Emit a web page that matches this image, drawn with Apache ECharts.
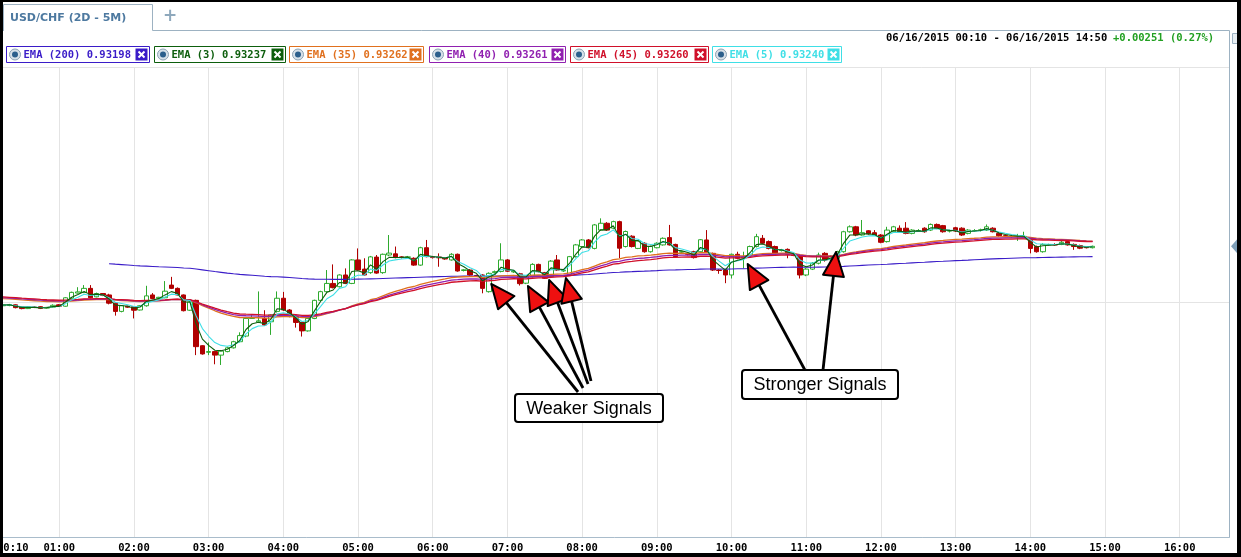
<!DOCTYPE html>
<html>
<head>
<meta charset="utf-8">
<script src="https://cdn.jsdelivr.net/npm/echarts@6.0.0/dist/echarts.min.js"></script>
<style>
  html, body { margin: 0; padding: 0; background: #fff; }
  #chart { width: 1241px; height: 557px; }
</style>
</head>
<body>
<div id="chart"></div>
<script>
// USD/CHF 5-minute bars, 06/16/2015 00:10 - 14:50
const openPrices = [
  0.92986,0.92984,0.92985,0.92988,0.92978,0.92972,0.92978,0.92980,0.92974,0.92978,
  0.92988,0.92982,0.93016,0.93038,0.93040,0.93058,0.93022,0.93036,0.93030,0.92995,
  0.92960,0.92982,0.92980,0.92966,0.92984,0.93030,0.93016,0.93018,0.93072,0.93058,
  0.93030,0.92965,0.93007,0.92814,0.92786,0.92789,0.92774,0.92789,0.92805,0.92831,
  0.92855,0.92930,0.92915,0.92930,0.92916,0.92960,0.93016,0.92966,0.92938,0.92913,
  0.92877,0.92930,0.93007,0.93044,0.93079,0.93065,0.93115,0.93079,0.93179,0.93140,
  0.93125,0.93191,0.93125,0.93200,0.93205,0.93192,0.93190,0.93186,0.93157,0.93231,
  0.93193,0.93192,0.93186,0.93179,0.93203,0.93134,0.93136,0.93113,0.93115,0.93044,
  0.93125,0.93130,0.93179,0.93128,0.93120,0.93080,0.93108,0.93160,0.93125,0.93108,
  0.93179,0.93132,0.93118,0.93193,0.93236,0.93264,0.93228,0.93306,0.93335,0.93314,
  0.93342,0.93236,0.93280,0.93228,0.93250,0.93214,0.93231,0.93243,0.93274,0.93245,
  0.93212,0.93206,0.93214,0.93214,0.93264,0.93207,0.93136,0.93136,0.93115,0.93203,
  0.93188,0.93200,0.93236,0.93271,0.93257,0.93236,0.93219,0.93224,0.93200,0.93193,
  0.93115,0.93140,0.93165,0.93207,0.93180,0.93186,0.93214,0.93299,0.93320,0.93285,
  0.93303,0.93295,0.93285,0.93257,0.93299,0.93314,0.93314,0.93292,0.93302,0.93314,
  0.93306,0.93330,0.93325,0.93302,0.93316,0.93314,0.93292,0.93303,0.93306,0.93306,
  0.93314,0.93292,0.93282,0.93279,0.93278,0.93276,0.93264,0.93236,0.93214,0.93243,
  0.93244,0.93245,0.93257,0.93245,0.93240,0.93232,0.93231
];
const closePrices = [
  0.92987,0.92988,0.92989,0.92976,0.92972,0.92978,0.92977,0.92973,0.92977,0.92986,
  0.92982,0.93018,0.93041,0.93043,0.93058,0.93018,0.93036,0.93028,0.92995,0.92960,
  0.92984,0.92978,0.92965,0.92984,0.93026,0.93015,0.93020,0.93046,0.93058,0.93030,
  0.92963,0.93000,0.92810,0.92779,0.92789,0.92774,0.92791,0.92805,0.92831,0.92857,
  0.92930,0.92932,0.92920,0.92902,0.92945,0.93016,0.92966,0.92938,0.92913,0.92877,
  0.92930,0.93007,0.93044,0.93079,0.93061,0.93115,0.93079,0.93179,0.93136,0.93115,
  0.93192,0.93123,0.93203,0.93208,0.93189,0.93190,0.93192,0.93157,0.93231,0.93193,
  0.93189,0.93188,0.93183,0.93203,0.93132,0.93137,0.93115,0.93112,0.93058,0.93122,
  0.93129,0.93179,0.93131,0.93131,0.93078,0.93108,0.93160,0.93129,0.93101,0.93174,
  0.93136,0.93135,0.93193,0.93243,0.93264,0.93231,0.93328,0.93335,0.93306,0.93342,
  0.93229,0.93300,0.93236,0.93260,0.93214,0.93236,0.93250,0.93271,0.93243,0.93193,
  0.93214,0.93203,0.93189,0.93265,0.93214,0.93136,0.93134,0.93115,0.93203,0.93186,
  0.93193,0.93236,0.93278,0.93250,0.93228,0.93207,0.93222,0.93203,0.93198,0.93115,
  0.93140,0.93165,0.93200,0.93179,0.93195,0.93214,0.93299,0.93320,0.93285,0.93295,
  0.93290,0.93285,0.93254,0.93306,0.93320,0.93299,0.93292,0.93306,0.93304,0.93299,
  0.93330,0.93314,0.93299,0.93303,0.93302,0.93285,0.93306,0.93304,0.93307,0.93320,
  0.93299,0.93282,0.93281,0.93278,0.93278,0.93279,0.93228,0.93214,0.93245,0.93244,
  0.93243,0.93254,0.93243,0.93236,0.93229,0.93231,0.93237
];
const lowPrices = [
  0.92980,0.92980,0.92982,0.92973,0.92969,0.92970,0.92974,0.92970,0.92972,0.92976,
  0.92979,0.92980,0.93014,0.93036,0.93038,0.93015,0.93020,0.93025,0.92990,0.92942,
  0.92956,0.92975,0.92930,0.92964,0.92980,0.93012,0.93014,0.93016,0.93055,0.93028,
  0.92960,0.92962,0.92774,0.92776,0.92774,0.92735,0.92732,0.92786,0.92802,0.92828,
  0.92850,0.92928,0.92912,0.92898,0.92860,0.92955,0.92962,0.92935,0.92891,0.92853,
  0.92874,0.92927,0.93004,0.93040,0.93058,0.93062,0.93076,0.93076,0.93133,0.93112,
  0.93120,0.93120,0.93120,0.93195,0.93186,0.93185,0.93186,0.93154,0.93154,0.93190,
  0.93185,0.93150,0.93180,0.93176,0.93129,0.93130,0.93112,0.93108,0.93037,0.93040,
  0.93120,0.93126,0.93128,0.93124,0.93070,0.93076,0.93104,0.93126,0.93098,0.93104,
  0.93132,0.93128,0.93114,0.93189,0.93232,0.93228,0.93224,0.93302,0.93302,0.93310,
  0.93187,0.93232,0.93232,0.93225,0.93210,0.93210,0.93228,0.93240,0.93240,0.93189,
  0.93208,0.93198,0.93185,0.93210,0.93210,0.93132,0.93120,0.93080,0.93100,0.93182,
  0.93143,0.93196,0.93232,0.93246,0.93224,0.93203,0.93215,0.93186,0.93195,0.93100,
  0.93110,0.93136,0.93160,0.93172,0.93176,0.93150,0.93210,0.93295,0.93280,0.93282,
  0.93286,0.93282,0.93250,0.93253,0.93295,0.93295,0.93288,0.93288,0.93298,0.93295,
  0.93302,0.93310,0.93295,0.93296,0.93298,0.93281,0.93288,0.93298,0.93300,0.93302,
  0.93296,0.93278,0.93278,0.93274,0.93260,0.93273,0.93207,0.93210,0.93210,0.93240,
  0.93240,0.93242,0.93240,0.93222,0.93225,0.93228,0.93228
];
const highPrices = [
  0.92990,0.92991,0.92992,0.92990,0.92980,0.92980,0.92981,0.92982,0.92979,0.92990,
  0.92991,0.93021,0.93044,0.93063,0.93072,0.93072,0.93040,0.93038,0.93035,0.92998,
  0.92986,0.92984,0.92982,0.92986,0.93069,0.93038,0.93022,0.93089,0.93107,0.93062,
  0.93032,0.93004,0.93010,0.92816,0.92828,0.92791,0.92795,0.92810,0.92835,0.92871,
  0.92935,0.92945,0.93045,0.92965,0.92948,0.93045,0.93043,0.92970,0.92940,0.92915,
  0.92933,0.93010,0.93048,0.93136,0.93160,0.93118,0.93143,0.93182,0.93228,0.93186,
  0.93196,0.93200,0.93206,0.93285,0.93236,0.93195,0.93196,0.93190,0.93235,0.93264,
  0.93196,0.93207,0.93190,0.93208,0.93206,0.93140,0.93140,0.93116,0.93118,0.93126,
  0.93134,0.93250,0.93183,0.93134,0.93124,0.93112,0.93165,0.93163,0.93128,0.93178,
  0.93200,0.93140,0.93196,0.93247,0.93268,0.93268,0.93332,0.93356,0.93340,0.93346,
  0.93346,0.93304,0.93284,0.93264,0.93254,0.93240,0.93254,0.93275,0.93328,0.93248,
  0.93218,0.93210,0.93218,0.93268,0.93306,0.93210,0.93140,0.93140,0.93206,0.93214,
  0.93214,0.93240,0.93290,0.93285,0.93262,0.93240,0.93226,0.93228,0.93204,0.93196,
  0.93145,0.93170,0.93210,0.93212,0.93199,0.93218,0.93303,0.93326,0.93324,0.93349,
  0.93306,0.93306,0.93289,0.93320,0.93324,0.93326,0.93340,0.93310,0.93310,0.93318,
  0.93334,0.93334,0.93328,0.93308,0.93320,0.93318,0.93310,0.93310,0.93312,0.93330,
  0.93318,0.93296,0.93286,0.93283,0.93290,0.93299,0.93268,0.93240,0.93250,0.93248,
  0.93250,0.93264,0.93262,0.93249,0.93244,0.93236,0.93240
];

// EMA overlays (order as in the legend); seeds are the line levels where each starts
const emaNames = ['EMA (200)', 'EMA (3)', 'EMA (35)', 'EMA (40)', 'EMA (45)', 'EMA (5)'];
const emaPeriods = [200, 3, 35, 40, 45, 5];
const emaSeeds = [0.93163, 0.92987, 0.93016, 0.93020, 0.93023, 0.92987];
const emaStartBar = [18, 0, 0, 0, 0, 0];
const emaLegendValues = ['0.93198', '0.93237', '0.93262', '0.93261', '0.93260', '0.93240'];
const emaColors = ['#3a1cc8', '#0d5e0d', '#e0701e', '#9020b0', '#d0102a', '#3fdfe6'];

const hourLabels = ['00:10', '01:00', '02:00', '03:00', '04:00', '05:00', '06:00', '07:00', '08:00',
  '09:00', '10:00', '11:00', '12:00', '13:00', '14:00', '15:00', '16:00'];

// annotation arrow tips: [bar index, price]
const weakerSignals = [[79.4, 0.93077], [85.3, 0.93068], [88.7, 0.93094], [91.4, 0.93102]];
const strongerSignals = [[120.6, 0.93162], [134.8, 0.93213]];

// 5-minute time slots across the visible window
const times = [];
for (let m = 10; m <= 10 + 198 * 5; m += 5) {
  const h = Math.floor(m / 60), mm = m % 60;
  times.push(String(h).padStart(2, '0') + ':' + String(mm).padStart(2, '0'));
}

const candles = openPrices.map((o, i) => [o, closePrices[i], lowPrices[i], highPrices[i]]);

function ema(period, seed, start) {
  const k = 2 / (period + 1);
  const out = [];
  let v = seed;
  for (let i = 0; i < closePrices.length; i++) {
    if (i < start) { out.push(null); continue; }
    if (i > start) v = v + k * (closePrices[i] - v);
    out.push(+v.toFixed(6));
  }
  return out;
}

const chart = echarts.init(document.getElementById('chart'), null, { renderer: 'canvas' });

// draw order: candles, then 200, 35, 40, 45, 5, 3
const drawOrder = [0, 2, 3, 4, 5, 1];
const emaSeries = drawOrder.map((idx, n) => ({
  name: emaNames[idx],
  type: 'line',
  data: ema(emaPeriods[idx], emaSeeds[idx], emaStartBar[idx]),
  symbol: 'none',
  smooth: false,
  z: 3 + n,
  lineStyle: { color: emaColors[idx], width: idx >= 2 && idx <= 4 ? 1.3 : 1.1 },
  silent: true
}));

chart.setOption({
  animation: false,
  backgroundColor: '#ffffff',
  grid: { left: -3, right: 11.5, top: 67, bottom: 20, containLabel: false, outerBoundsMode: 'none' },
  xAxis: {
    type: 'category',
    data: times,
    boundaryGap: false,
    axisLine: { lineStyle: { color: '#a9bccb', width: 1 } },
    axisTick: { show: false },
    axisLabel: {
      interval: (i, v) => hourLabels.includes(v),
      alignMinLabel: 'left',
      margin: 6,
      color: '#000',
      fontFamily: 'DejaVu Sans Mono',
      fontWeight: 'bold',
      fontSize: 10.5
    },
    splitLine: {
      show: true,
      interval: (i, v) => hourLabels.includes(v) && v !== '00:10',
      lineStyle: { color: '#e4e4e4', width: 1 }
    }
  },
  yAxis: {
    type: 'value',
    position: 'right',
    min: 0.92,
    max: 0.94,
    interval: 0.01,
    axisLine: { show: false },
    axisTick: { show: false },
    axisLabel: { show: false },
    splitLine: { lineStyle: { color: '#e4e4e4', width: 1 } }
  },
  series: [{
    name: 'USD/CHF',
    type: 'candlestick',
    data: candles,
    barWidth: 5,
    z: 2,
    itemStyle: {
      color: '#ffffff',
      color0: '#b00000',
      borderColor: '#2eaa2e',
      borderColor0: '#b00000',
      borderWidth: 1
    }
  }].concat(emaSeries)
});

function toPx(bar, price) {
  const i = Math.floor(bar), f = bar - i;
  const p0 = chart.convertToPixel({ gridIndex: 0 }, [i, price]);
  const p1 = chart.convertToPixel({ gridIndex: 0 }, [i + 1, price]);
  return [p0[0] + (p1[0] - p0[0]) * f, p0[1]];
}

function arrow(sx, sy, target) {
  const [tx, ty] = toPx(target[0], target[1]);
  const dx = tx - sx, dy = ty - sy, len = Math.hypot(dx, dy);
  const ux = dx / len, uy = dy / len, L = 24, W = 10.5;
  const bx = tx - ux * L, by = ty - uy * L, nx = -uy, ny = ux;
  return [
    { type: 'line', z: 50, shape: { x1: sx, y1: sy, x2: bx, y2: by },
      style: { stroke: '#000', lineWidth: 2.8 } },
    { type: 'polygon', z: 51,
      shape: { points: [[tx, ty], [bx + nx * W, by + ny * W], [bx - nx * W, by - ny * W]] },
      style: { fill: '#ee1010', stroke: '#000', lineWidth: 2, lineJoin: 'round' } }
  ];
}

function labelBox(x, y, w, h, text) {
  return [
    { type: 'rect', z: 52, shape: { x: x, y: y, width: w, height: h, r: 3 },
      style: { fill: '#fff', stroke: '#000', lineWidth: 2 } },
    { type: 'text', z: 53, x: x + w / 2, y: y + h / 2 + 1,
      style: { text: text, fill: '#000', font: '18px "Liberation Sans", Arial, sans-serif',
        align: 'center', verticalAlign: 'middle' } }
  ];
}

// legend chips
const chipX = [6, 154, 289, 429, 570, 712];
const chipW = [143, 131, 134, 136, 138, 129];
function chip(i) {
  const x = chipX[i] + 0.5, w = chipW[i], c = emaColors[i];
  const bx = x + w - 14;
  return [
    { type: 'rect', z: 60, shape: { x: x, y: 46.5, width: w, height: 16 },
      style: { fill: '#fff', stroke: c, lineWidth: 1 } },
    { type: 'circle', z: 61, shape: { cx: x + 8.5, cy: 54.5, r: 5.5 },
      style: { fill: '#d6e0e8', stroke: '#8da3b4', lineWidth: 1 } },
    { type: 'circle', z: 62, shape: { cx: x + 8.5, cy: 54.5, r: 3 },
      style: { fill: '#2b5f8c' } },
    { type: 'text', z: 61, x: x + 17, y: 55,
      style: { text: emaNames[i] + ' ' + emaLegendValues[i], fill: c,
        font: 'bold 10.5px "DejaVu Sans Mono", monospace', verticalAlign: 'middle' } },
    { type: 'rect', z: 61, shape: { x: bx, y: 48.5, width: 12, height: 12 },
      style: { fill: c } },
    { type: 'line', z: 62, shape: { x1: bx + 3, y1: 51.5, x2: bx + 9, y2: 57.5 },
      style: { stroke: '#fff', lineWidth: 2 } },
    { type: 'line', z: 62, shape: { x1: bx + 9, y1: 51.5, x2: bx + 3, y2: 57.5 },
      style: { stroke: '#fff', lineWidth: 2 } }
  ];
}

const lastY = toPx(closePrices.length - 1, closePrices[closePrices.length - 1])[1];

let graphics = [];
// tab + panel frame
graphics.push(
  { type: 'polyline', z: 40, shape: { points: [[3.5, 31], [3.5, 4.5], [152.5, 4.5], [152.5, 30.5], [1229.5, 30.5], [1229.5, 537]] },
    style: { stroke: '#9db2c2', lineWidth: 1, fill: null } },
  { type: 'text', z: 41, x: 10, y: 18,
    style: { text: 'USD/CHF (2D - 5M)', fill: '#4d79a0', font: 'bold 11px "DejaVu Sans", sans-serif', verticalAlign: 'middle' } },
  { type: 'text', z: 41, x: 170, y: 17,
    style: { text: '+', fill: '#8ea8bc', font: 'bold 17px "DejaVu Sans", sans-serif', align: 'center', verticalAlign: 'middle' } },
  { type: 'rect', z: 40, shape: { x: 0, y: 32, width: 1229, height: 35 }, style: { fill: '#fff' } },
  { type: 'text', z: 41, x: 886, y: 38,
    style: { text: '06/16/2015 00:10 - 06/16/2015 14:50', fill: '#000', font: 'bold 10.5px "DejaVu Sans Mono", monospace', verticalAlign: 'middle' } },
  { type: 'text', z: 41, x: 1113, y: 38,
    style: { text: '+0.00251 (0.27%)', fill: '#22a022', font: 'bold 10.5px "DejaVu Sans Mono", monospace', verticalAlign: 'middle' } },
  { type: 'rect', z: 41, shape: { x: 1232.5, y: 33.5, width: 7, height: 10 }, style: { fill: '#e8eef2', stroke: '#9db2c2' } },
  { type: 'polygon', z: 41, shape: { points: [[1231, lastY], [1238, lastY - 8], [1238, lastY + 8]] }, style: { fill: '#7f9fb8' } }
);
for (let i = 0; i < emaNames.length; i++) graphics = graphics.concat(chip(i));

// annotations
const weakerStarts = [[578, 392], [583, 388], [588, 384], [591, 381]];
weakerSignals.forEach((t, i) => { graphics = graphics.concat(arrow(weakerStarts[i][0], weakerStarts[i][1], t)); });
const strongerStarts = [[806, 372], [823, 370]];
strongerSignals.forEach((t, i) => { graphics = graphics.concat(arrow(strongerStarts[i][0], strongerStarts[i][1], t)); });
graphics = graphics.concat(labelBox(515, 394, 148, 28, 'Weaker Signals'));
graphics = graphics.concat(labelBox(742, 370, 156, 29, 'Stronger Signals'));

// black outer frame
graphics.push(
  { type: 'rect', z: 90, shape: { x: 0, y: 0, width: 3, height: 557 }, style: { fill: '#000' } },
  { type: 'rect', z: 90, shape: { x: 0, y: 0, width: 1241, height: 2 }, style: { fill: '#000' } },
  { type: 'rect', z: 90, shape: { x: 1237, y: 0, width: 4, height: 557 }, style: { fill: '#000' } },
  { type: 'rect', z: 90, shape: { x: 0, y: 553, width: 1241, height: 4 }, style: { fill: '#000' } }
);

chart.setOption({ graphic: graphics });
</script>
</body>
</html>
